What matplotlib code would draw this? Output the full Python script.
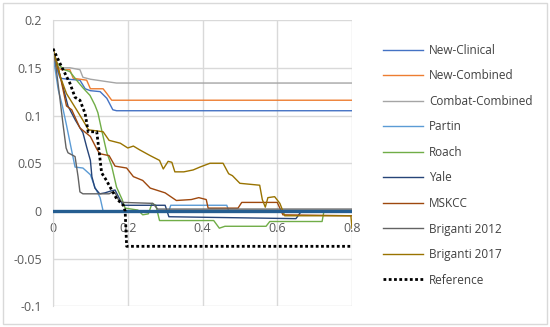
import matplotlib
matplotlib.use("Agg")
import matplotlib.pyplot as plt
from matplotlib.patches import Rectangle

plt.rcParams['font.family'] = ['Open Sans', 'DejaVu Sans']

# ---- data ----
x_new_clinical = [0, 0.005, 0.019, 0.04, 0.072, 0.086, 0.1, 0.126, 0.144, 0.16, 0.17, 0.8]
y_new_clinical = [0.168, 0.155, 0.139, 0.138, 0.137, 0.128, 0.126, 0.125, 0.118, 0.106, 0.105, 0.105]

x_new_combined = [0, 0.01, 0.023, 0.045, 0.054, 0.09, 0.1, 0.134, 0.144, 0.157, 0.8]
y_new_combined = [0.165, 0.150, 0.148, 0.148, 0.139, 0.137, 0.128, 0.128, 0.123, 0.116, 0.116]

x_combat = [0, 0.014, 0.045, 0.072, 0.08, 0.1, 0.152, 0.17, 0.8]
y_combat = [0.170, 0.150, 0.150, 0.148, 0.140, 0.138, 0.135, 0.134, 0.134]

x_partin = [0, 0.005, 0.014, 0.025, 0.036, 0.05, 0.059, 0.08, 0.1, 0.112, 0.126, 0.134, 0.31, 0.315, 0.465, 0.47, 0.8]
y_partin = [0.162, 0.150, 0.127, 0.110, 0.090, 0.063, 0.046, 0.045, 0.038, 0.025, 0.014, 0.0, 0.0, 0.006, 0.006, 0.0, 0.0]

x_roach = [0, 0.01, 0.03, 0.045, 0.063, 0.08, 0.099, 0.112, 0.12, 0.13, 0.144, 0.157, 0.17, 0.185, 0.193,
           0.227, 0.24, 0.255, 0.265, 0.275, 0.285, 0.43, 0.445, 0.46, 0.57, 0.58, 0.72, 0.725, 0.8]
y_roach = [0.168, 0.155, 0.148, 0.146, 0.137, 0.129, 0.121, 0.111, 0.103, 0.085, 0.061, 0.047, 0.025, 0.012, 0.003,
           0.001, -0.004, -0.003, 0.008, 0.006, -0.010, -0.010, -0.018, -0.016, -0.016, -0.011, -0.011, 0.0, 0.0]

x_yale = [0, 0.02, 0.04, 0.06, 0.08, 0.09, 0.1, 0.104, 0.112, 0.125, 0.139, 0.155, 0.166, 0.175, 0.187,
          0.3, 0.31, 0.65, 0.665, 0.8]
y_yale = [0.168, 0.14, 0.11, 0.095, 0.082, 0.067, 0.053, 0.036, 0.024, 0.018, 0.019, 0.021, 0.022, 0.015, 0.006,
          0.006, -0.006, -0.008, 0.0, 0.0]

x_mskcc = [0, 0.02, 0.036, 0.05, 0.072, 0.1, 0.117, 0.125, 0.15, 0.166, 0.197, 0.215, 0.24, 0.26, 0.3, 0.33,
           0.37, 0.39, 0.41, 0.415, 0.495, 0.505, 0.6, 0.615, 0.8]
y_mskcc = [0.17, 0.14, 0.11, 0.106, 0.087, 0.078, 0.065, 0.06, 0.058, 0.047, 0.045, 0.036, 0.032, 0.024, 0.019, 0.011,
           0.012, 0.014, 0.012, 0.003, 0.003, 0.009, 0.009, -0.004, -0.005]

x_brig12 = [0, 0.005, 0.019, 0.027, 0.035, 0.04, 0.059, 0.067, 0.072, 0.08, 0.15, 0.16, 0.166, 0.175, 0.187,
            0.267, 0.28, 0.8]
y_brig12 = [0.17, 0.16, 0.116, 0.09, 0.066, 0.061, 0.057, 0.036, 0.02, 0.018, 0.018, 0.02, 0.019, 0.012, 0.009,
            0.008, 0.002, 0.002]

x_brig17 = [0, 0.02, 0.036, 0.063, 0.08, 0.095, 0.134, 0.15, 0.18, 0.2, 0.215, 0.232, 0.26, 0.285, 0.295, 0.308,
            0.318, 0.326, 0.35, 0.375, 0.393, 0.42, 0.455, 0.47, 0.48, 0.5, 0.553, 0.56, 0.568, 0.575, 0.593,
            0.607, 0.62, 0.797, 0.8]
y_brig17 = [0.17, 0.14, 0.123, 0.106, 0.095, 0.085, 0.083, 0.074, 0.071, 0.066, 0.068, 0.064, 0.058, 0.053, 0.044,
            0.052, 0.051, 0.041, 0.041, 0.043, 0.046, 0.05, 0.05, 0.039, 0.037, 0.029, 0.027, 0.012, 0.004, 0.014,
            0.015, 0.008, -0.005, -0.005, -0.018]

x_reference = [0, 0.023, 0.045, 0.059, 0.072, 0.086, 0.094, 0.117, 0.125, 0.13, 0.143, 0.157, 0.17, 0.188, 0.193,
               0.197, 0.8]
y_reference = [0.170, 0.151, 0.134, 0.119, 0.116, 0.102, 0.083, 0.083, 0.057, 0.040, 0.032, 0.022, 0.013, 0.006,
               0.0, -0.037, -0.037]

x_none = [0, 0.8]
y_none = [0, 0]

x_ticks = [0, 0.2, 0.4, 0.6, 0.8]
x_tick_labels = ['0', '0.2', '0.4', '0.6', '0.8']
y_ticks = [-0.1, -0.05, 0, 0.05, 0.1, 0.15, 0.2]
y_tick_labels = ['-0.1', '-0.05', '0', '0.05', '0.1', '0.15', '0.2']

# ---- figure ----
fig = plt.figure(figsize=(5.5, 3.27), dpi=100)
fig.patches.append(Rectangle((0.006, 0.01), 0.988, 0.98, transform=fig.transFigure,
                             fill=False, edgecolor='#D9D9D9', linewidth=1.0))
ax = fig.add_axes([0.0964, 0.0627, 0.5436, 0.8761])

lw = 1.0
ax.plot(x_none, y_none, color='#255E91', linewidth=2.4, zorder=3)
ax.plot(x_new_clinical, y_new_clinical, color='#4472C4', lw=lw, label='New-Clinical')
ax.plot(x_new_combined, y_new_combined, color='#ED7D31', lw=lw, label='New-Combined')
ax.plot(x_combat, y_combat, color='#A5A5A5', lw=lw, label='Combat-Combined')
ax.plot(x_partin, y_partin, color='#5B9BD5', lw=lw, label='Partin')
ax.plot(x_roach, y_roach, color='#70AD47', lw=lw, label='Roach')
ax.plot(x_yale, y_yale, color='#264478', lw=lw, label='Yale')
ax.plot(x_mskcc, y_mskcc, color='#9E480E', lw=lw, label='MSKCC')
ax.plot(x_brig12, y_brig12, color='#636363', lw=lw, label='Briganti 2012')
ax.plot(x_brig17, y_brig17, color='#997300', lw=lw, label='Briganti 2017')
ax.plot(x_reference, y_reference, color='black', lw=2.0, linestyle=(0, (1, 0.9)), label='Reference', zorder=4)

ax.set_xlim(0, 0.8)
ax.set_ylim(-0.1, 0.2)
ax.set_xticks(x_ticks)
ax.set_xticklabels(x_tick_labels)
ax.set_yticks(y_ticks)
ax.set_yticklabels(y_tick_labels)
ax.grid(True, color='#D9D9D9', linewidth=1.0)
ax.set_axisbelow(True)
for s in ['top', 'right']:
    ax.spines[s].set_visible(False)
ax.spines['left'].set_color('#D9D9D9')
ax.spines['bottom'].set_position(('data', 0))
ax.spines['bottom'].set_color('none')
ax.tick_params(axis='both', length=0, labelsize=9, labelcolor='#595959')
ax.tick_params(axis='x', pad=8)
ax.tick_params(axis='y', pad=8)

leg = ax.legend(loc='upper left', bbox_to_anchor=(1.087, 0.933), frameon=False, fontsize=8.5,
                handlelength=3.4, handletextpad=0.5, labelspacing=1.06, borderaxespad=0)
for t in leg.get_texts():
    t.set_color('#404040')

fig.savefig('out.png', dpi=100)
